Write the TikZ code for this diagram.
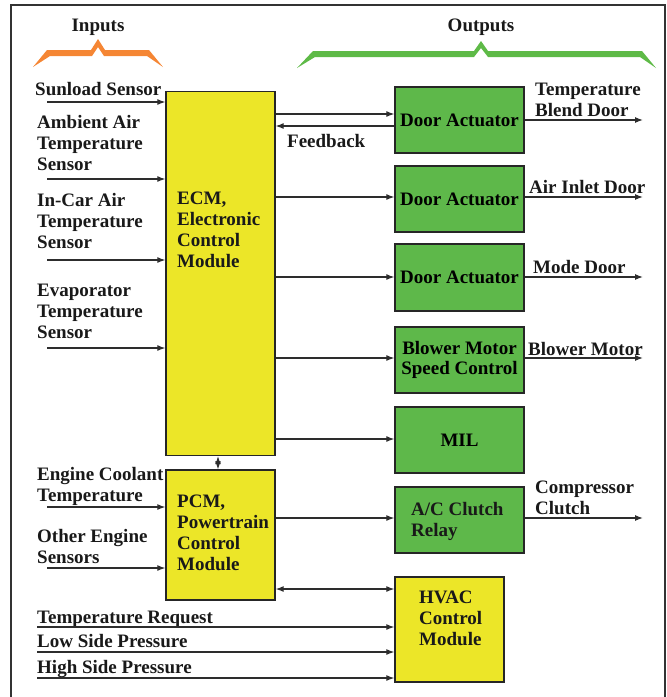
\documentclass[tikz,border=0pt]{standalone}
\usepackage{fontspec}
\setmainfont{Liberation Serif}
\usetikzlibrary{arrows.meta}
\definecolor{boxgreen}{RGB}{94,184,74}
\definecolor{boxyellow}{RGB}{236,230,40}
\definecolor{brorange}{RGB}{245,134,52}
\definecolor{brgreen}{RGB}{94,186,71}
\definecolor{linegray}{RGB}{45,45,45}
\tikzset{
  lbl/.style={font=\fontsize{19}{20.7}\selectfont\bfseries, align=left, inner sep=0pt, anchor=base west, text=black!90},
  clbl/.style={font=\fontsize{19}{20.7}\selectfont\bfseries, align=center, inner sep=0pt, text=black!90},
  gbox/.style={draw=black!85, line width=1.3pt, fill=boxgreen, minimum width=129pt, minimum height=66pt, inner sep=0pt, font=\fontsize{19}{20.7}\selectfont\bfseries, align=center},
  ybox/.style={draw=black!85, line width=1.3pt, fill=boxyellow, inner sep=0pt},
  arr/.style={draw=linegray, line width=1.2pt, -{Latex[length=8pt,width=6pt]}},
  darr/.style={draw=linegray, line width=1.2pt, {Latex[length=8pt,width=6pt]}-{Latex[length=8pt,width=6pt]}},
  frame/.style={draw=black!80, line width=1.4pt}
}
\begin{document}
\begin{tikzpicture}[x=1pt,y=-1pt]
\useasboundingbox (0,0) rectangle (667,697);
% frame
\draw[frame] (11,697) -- (11,5) -- (665,5) -- (665,697);
% headings
\node[clbl, anchor=base] (inputs) at (98,31) {Inputs};
\node[clbl, anchor=base] (outputs) at (481,31) {Outputs};
% brackets
\fill[brorange] (33,67) -- (47,50) -- (91,50) -- (98,39) -- (105,50) -- (149,50) -- (163,67)
  -- (147,56) -- (104,56) -- (98,47) -- (92,56) -- (50,56) -- cycle;
\fill[brgreen] (297,68) -- (313,51) -- (474,51) -- (481,41) -- (488,51) -- (642,51) -- (656,68)
  -- (640,57) -- (488,57) -- (481,48) -- (474,57) -- (315,57) -- cycle;
% main boxes
\node[ybox, minimum width=109pt, minimum height=364pt] (ecm) at (220.5,273.5) {};
\node[ybox, minimum width=109pt, minimum height=130pt] (pcm) at (220.5,535) {};
\node[ybox, minimum width=109pt, minimum height=105pt] (hvac) at (449.5,629.5) {};
\node[lbl] (ecmtxt) at (177,267) {ECM,\\Electronic\\Control\\Module};
\node[lbl] (pcmtxt) at (177,570) {PCM,\\Powertrain\\Control\\Module};
\node[lbl] (hvactxt) at (419,645) {HVAC\\Control\\Module};
% output boxes
\node[gbox] (d1) at (459.5,120) {Door Actuator};
\node[gbox] (d2) at (459.5,199) {Door Actuator};
\node[gbox, minimum height=67pt] (d3) at (459.5,277.5) {Door Actuator};
\node[gbox] (d4) at (459.5,360) {Blower Motor\\Speed Control};
\node[gbox] (mil) at (459.5,440) {MIL};
\node[gbox] (ac) at (459.5,520) {};
\node[lbl] (actxt) at (411,536) {A/C Clutch\\Relay};
% input labels
\node[lbl] (l1) at (35,95) {Sunload Sensor};
\node[lbl] (l2) at (37,170) {Ambient Air\\Temperature\\Sensor};
\node[lbl] (l3) at (37,248) {In-Car Air\\Temperature\\Sensor};
\node[lbl] (l4) at (37,338) {Evaporator\\Temperature\\Sensor};
\node[lbl] (l5) at (37,501) {Engine Coolant\\Temperature};
\node[lbl] (l6) at (37,563) {Other Engine\\Sensors};
\node[lbl] (l7) at (37,623) {Temperature Request};
\node[lbl] (l8) at (37,647) {Low Side Pressure};
\node[lbl] (l9) at (37,673) {High Side Pressure};
% output labels
\node[lbl] (fb) at (287,147) {Feedback};
\node[lbl] (o1t) at (535,116) {Temperature\\Blend Door};
\node[lbl] (o2t) at (529,193) {Air Inlet Door};
\node[lbl] (o3t) at (533,273) {Mode Door};
\node[lbl] (o4t) at (528,355) {Blower Motor};
\node[lbl] (o6t) at (535,514) {Compressor\\Clutch};
% input arrow coordinates
\coordinate (i1) at (47,102);
\coordinate (i2) at (47,179);
\coordinate (i3) at (47,260);
\coordinate (i4) at (47,348);
\coordinate (i5) at (47,507);
\coordinate (i6) at (47,568);
\coordinate (i7) at (37,627);
\coordinate (i8) at (37,652);
\coordinate (i9) at (37,678);
\foreach \c in {i1,i2,i3,i4} \draw[arr] (\c) -- (ecm.west |- \c);
\foreach \c in {i5,i6} \draw[arr] (\c) -- (pcm.west |- \c);
\foreach \c in {i7,i8,i9} \draw[arr] (\c) -- (hvac.west |- \c);
% ECM/PCM link
\draw[darr] ([xshift=-2.5pt]ecm.south) -- ([xshift=-2.5pt]pcm.north);
% ECM to outputs
\coordinate (c1) at (0,114);
\coordinate (cf) at (0,126);
\coordinate (c2) at (0,197);
\coordinate (c3) at (0,277);
\coordinate (c4) at (0,358);
\coordinate (c5) at (0,439);
\coordinate (c6) at (0,518);
\coordinate (c7) at (0,589);
\draw[arr] (ecm.east |- c1) -- (d1.west |- c1);
\draw[arr] (d1.west |- cf) -- (ecm.east |- cf);
\draw[arr] (ecm.east |- c2) -- (d2.west |- c2);
\draw[arr] (ecm.east |- c3) -- (d3.west |- c3);
\draw[arr] (ecm.east |- c4) -- (d4.west |- c4);
\draw[arr] (ecm.east |- c5) -- (mil.west |- c5);
\draw[arr] (pcm.east |- c6) -- (ac.west |- c6);
\draw[darr] (pcm.east |- c7) -- (hvac.west |- c7);
% outputs
\coordinate (e1) at (643,120);
\coordinate (e2) at (643,197);
\coordinate (e3) at (643,277);
\coordinate (e4) at (643,358);
\coordinate (e6) at (643,518);
\draw[arr] (d1.east |- e1) -- (e1);
\draw[arr] (d2.east |- e2) -- (e2);
\draw[arr] (d3.east |- e3) -- (e3);
\draw[arr] (d4.east |- e4) -- (e4);
\draw[arr] (ac.east |- e6) -- (e6);
\end{tikzpicture}
\end{document}
